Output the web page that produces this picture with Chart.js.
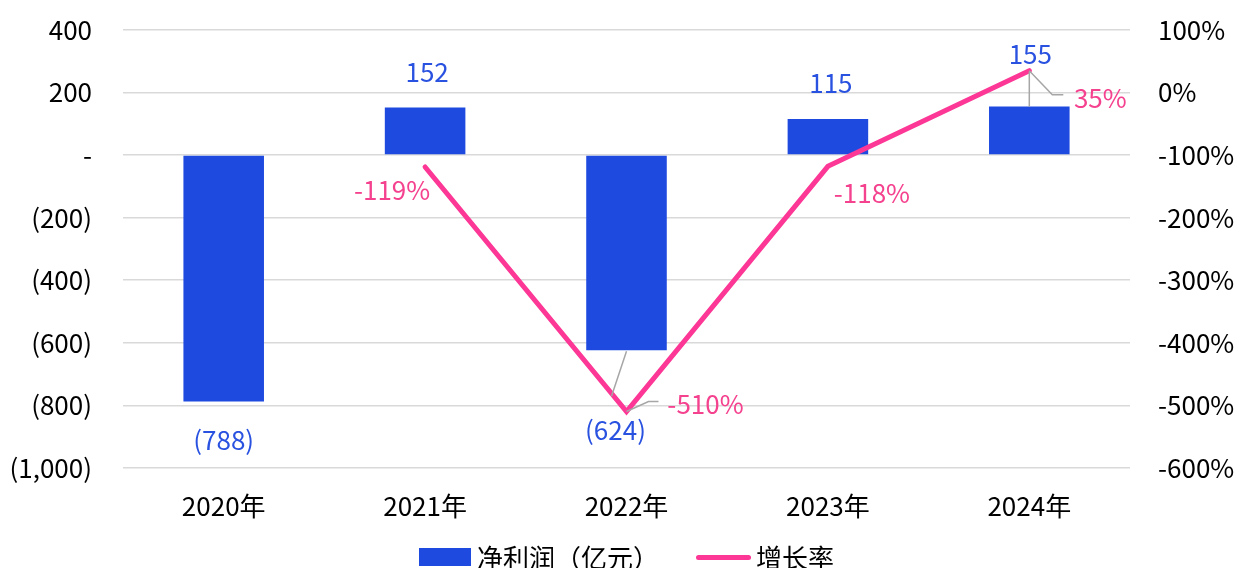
<!DOCTYPE html>
<html lang="zh">
<head>
<meta charset="UTF-8">
<title>净利润与增长率</title>
<script src="https://cdn.jsdelivr.net/npm/chart.js"></script>
<style>
    html, body { margin: 0; padding: 0; background: #fff; }
    .wrap { position: relative; width: 1238px; height: 568px; overflow: hidden; }
    .legend {
        position: absolute; left: 419px; top: 543px;
        display: flex; align-items: center;
        font-family: 'Noto Sans CJK SC', sans-serif; font-size: 26px; color: #000;
        line-height: 28px; white-space: nowrap;
    }
    .legend .item { display: flex; align-items: center; }
    .legend .box { width: 52px; height: 18px; background: #1f4ae0; margin-right: 6px; }
    .legend .ln { width: 55px; height: 5px; border-radius: 3px; background: #fc3795; margin-right: 5px; }
</style>
</head>
<body>
<div class="wrap">
    <canvas id="c" width="1238" height="568"></canvas>
    <div class="legend">
        <div class="item"><span class="box"></span>净利润（亿元）</div>
        <div class="item" style="margin-left:37px"><span class="ln"></span>增长率</div>
    </div>
</div>
<script>
// data
const years = ['2020年', '2021年', '2022年', '2023年', '2024年'];
const netProfit = [-788, 152, -624, 115, 155];
const growth = [null, -119, -510, -118, 35];
const growthLabels = ['', '-119%', '-510%', '-118%', '35%'];

const BLUE = '#1f4ae0';
const PINK = '#fc3795';
const FONT = "'Noto Sans CJK SC', sans-serif";

// label placement (pixels relative to bar end / line point)
const barLabelOffset = [[0, 39], [2, -35], [-11, 80], [3, -36], [1, -52]];
const lineLabelOffset = [null, [-33, 23], [79, -7], [44, 27], [71, 27]];
const barLeaders = { 2: [[0, 1], [-15, 46]], 4: [[0, 0], [0, -35]] };
const lineLeaders = { 2: [[0, 0], [22, -10], [32, -10]], 4: [[0, 0], [23, 24], [34, 24]] };

function fmtLeft(v) {
    if (v === 0) return '-';
    const s = Math.abs(v).toLocaleString('en-US');
    return v < 0 ? '(' + s + ')' : s;
}

const labelPlugin = {
    id: 'labels',
    afterDatasetsDraw(chart) {
        const ctx = chart.ctx;
        const barMeta = chart.getDatasetMeta(1);
        const lineMeta = chart.getDatasetMeta(0);
        ctx.save();
        // leader lines
        ctx.strokeStyle = '#a6a6a6';
        ctx.lineWidth = 1.5;
        const drawPath = (x0, y0, pts) => {
            ctx.beginPath();
            pts.forEach((p, j) => j ? ctx.lineTo(x0 + p[0], y0 + p[1]) : ctx.moveTo(x0 + p[0], y0 + p[1]));
            ctx.stroke();
        };
        for (const i in barLeaders) {
            const el = barMeta.data[i];
            drawPath(el.x, el.y, barLeaders[i]);
        }
        for (const i in lineLeaders) {
            const el = lineMeta.data[i];
            drawPath(el.x, el.y, lineLeaders[i]);
        }
        ctx.font = '26px ' + FONT;
        ctx.textAlign = 'center';
        ctx.textBaseline = 'middle';
        ctx.fillStyle = '#2a52e0';
        barMeta.data.forEach((el, i) => {
            const o = barLabelOffset[i];
            ctx.fillText(fmtLeft(netProfit[i]), el.x + o[0], el.y + o[1]);
        });
        ctx.fillStyle = '#f5428f';
        lineMeta.data.forEach((el, i) => {
            const o = lineLabelOffset[i];
            if (!o || growth[i] === null) return;
            ctx.fillText(growthLabels[i], el.x + o[0], el.y + o[1]);
        });
        ctx.restore();
    }
};

// fixed axis width, and don't let tick padding push the plot area down
function fitY(width) {
    return s => { s.width = width; s.paddingTop = 16; s.paddingBottom = 16; };
}

new Chart(document.getElementById('c'), {
    data: {
        labels: years,
        datasets: [
            {
                type: 'line',
                label: '增长率',
                data: growth,
                yAxisID: 'y1',
                borderColor: PINK,
                borderWidth: 5,
                borderCapStyle: 'round',
                borderJoinStyle: 'miter',
                pointRadius: 0,
                tension: 0,
                order: 0
            },
            {
                type: 'bar',
                label: '净利润（亿元）',
                data: netProfit,
                yAxisID: 'y',
                backgroundColor: BLUE,
                barPercentage: 0.4,
                categoryPercentage: 1,
                order: 1
            }
        ]
    },
    plugins: [labelPlugin],
    options: {
        responsive: false,
        animation: false,
        layout: { padding: { top: 30, bottom: 31, left: 0, right: 0 } },
        plugins: { legend: { display: false }, tooltip: { enabled: false } },
        scales: {
            x: {
                grid: { display: false },
                border: { display: false },
                ticks: { color: '#000', font: { family: FONT, size: 26 }, padding: 15, maxRotation: 0 }
            },
            y: {
                position: 'left',
                min: -1000, max: 400,
                ticks: { stepSize: 200, color: '#000', font: { family: FONT, size: 26 }, padding: 31, callback: fmtLeft },
                grid: { color: '#d9d9d9', lineWidth: 1.5, drawTicks: false },
                border: { display: false },
                afterFit: fitY(123)
            },
            y1: {
                position: 'right',
                min: -600, max: 100,
                ticks: { stepSize: 100, color: '#000', font: { family: FONT, size: 26 }, padding: 28, callback: v => v + '%' },
                grid: { display: false, drawTicks: false },
                border: { display: false },
                afterFit: fitY(108)
            }
        }
    }
});
</script>
</body>
</html>
